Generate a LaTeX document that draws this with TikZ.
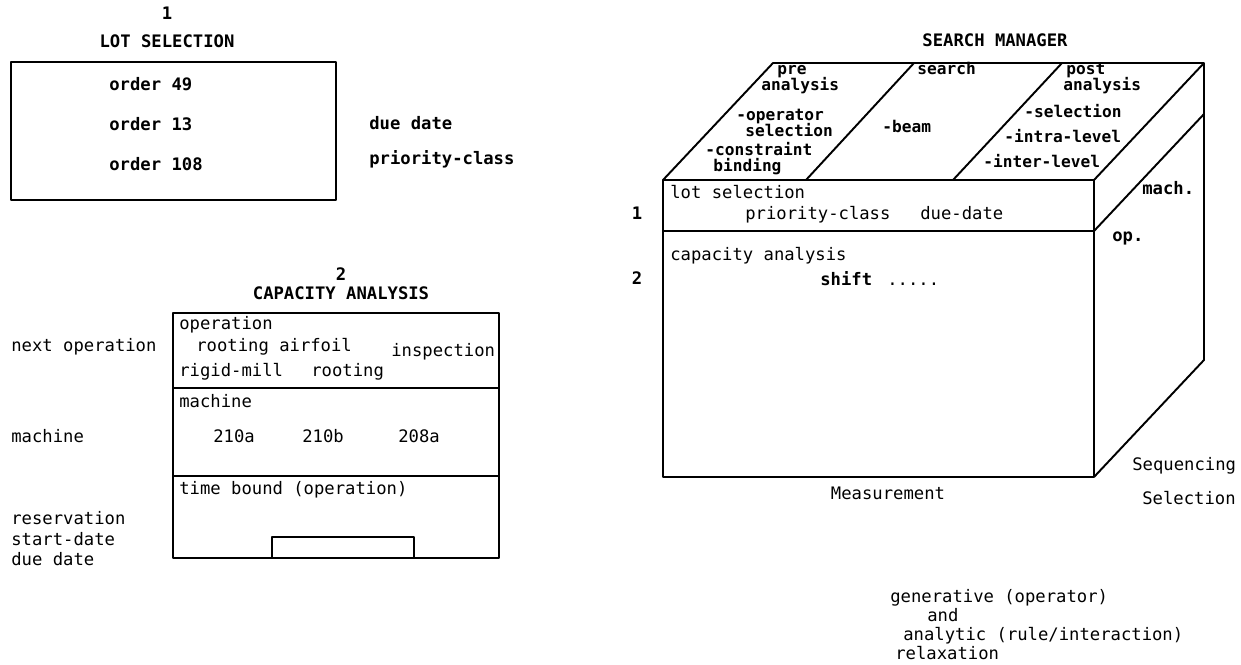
\documentclass[tikz,border=0pt]{standalone}
\usepackage{fontspec}
\setmonofont{DejaVu Sans Mono}
\usetikzlibrary{positioning, calc}

\begin{document}
\begin{tikzpicture}[x=0.02cm, y=-0.02cm,
  txt/.style={font=\ttfamily\fontsize{9.8}{11}\selectfont, inner sep=0pt,
              anchor=west, text height=1.4ex, text depth=.25ex},
  btxt/.style={txt, font=\ttfamily\bfseries\fontsize{9.8}{11}\selectfont},
  stxt/.style={btxt, font=\ttfamily\bfseries\fontsize{9.2}{10}\selectfont},
  mid/.style={anchor=center},
  edge/.style={line width=1.1pt, line join=round},
]
\useasboundingbox (0,0) rectangle (1241,664);

% lot selection panel
\node[btxt, mid] (numone)   at (167,15)  {1};
\node[btxt, mid] (lottitle) at (167,43)  {LOT SELECTION};
\draw[edge] (11,62) rectangle (336,200);
\node[btxt] (ordA) at (109,86)  {order 49};
\node[btxt] (ordB) at (109,126) {order 13};
\node[btxt] (ordC) at (109,166) {order 108};
\node[btxt] (lotdue)  at (369,125) {due date};
\node[btxt] (lotprio) at (369,160) {priority-class};

% capacity analysis panel
\node[btxt, mid] (numtwo)   at (341,276) {2};
\node[btxt, mid] (captitle) at (341,295) {CAPACITY ANALYSIS};
\draw[edge] (173,313) rectangle (499,558);
\draw[edge] (173,388) -- (499,388);
\draw[edge] (173,476) -- (499,476);
\draw[edge] (272,558) |- (414,537) -- (414,558);

\node[txt] (opsec)   at (179,325) {operation};
\node[txt] (opA)     at (196,347) {rooting airfoil};
\node[txt] (opB)     at (391,352) {inspection};
\node[txt] (opC)     at (179,372) {rigid-mill};
\node[txt] (opD)     at (311,372) {rooting};
\node[txt] (macsec)  at (179,403) {machine};
\node[txt, mid] (macA) at (234,438) {210a};
\node[txt, mid] (macB) at (323,438) {210b};
\node[txt, mid] (macC) at (419,438) {208a};
\node[txt] (timesec) at (179,490) {time bound (operation)};

\node[txt] (nextop)  at (11,347) {next operation};
\node[txt] (macleft) at (11,438) {machine};
\node[txt] (resv)    at (11,520) {reservation};
\node[txt] (start)   at (11,541) {start-date};
\node[txt] (resdue)  at (11,561) {due date};

% search manager cube
\coordinate (fa) at (663,180);
\coordinate (fb) at (1094,180);
\coordinate (fc) at (1094,477);
\coordinate (fd) at (663,477);
\coordinate (ba) at (773,63);
\coordinate (bb) at (1204,63);
\coordinate (bc) at (1204,360);

\node[btxt, mid] (smtitle) at (995,42) {SEARCH MANAGER};
\draw[edge] (fa) rectangle (fc);
\draw[edge] (fa) -- (ba) -- (bb) -- (bc) -- (fc);
\draw[edge] (fb) -- (bb);
\draw[edge] (663,231) -- (1094,231) -- (1204,114);
\draw[edge] (806,180) -- (914,63);
\draw[edge] (953,180) -- (1062,63);

% top face
\node[stxt] (pre)    at (777,70)  {pre};
\node[stxt] (preana) at (761,86)  {analysis};
\node[stxt] (preA)   at (736,116) {-operator};
\node[stxt] (preB)   at (745,132) {selection};
\node[stxt] (preC)   at (705,151) {-constraint};
\node[stxt] (preD)   at (713,167) {binding};
\node[stxt] (srch)   at (917,70)  {search};
\node[stxt] (beam)   at (882,128) {-beam};
\node[stxt] (post)   at (1066,70) {post};
\node[stxt] (postana) at (1063,86) {analysis};
\node[stxt] (postA)  at (1024,113) {-selection};
\node[stxt] (postB)  at (1004,138) {-intra-level};
\node[stxt] (postC)  at (983,163)  {-inter-level};

% front face
\node[btxt, mid] (rowone) at (637,215) {1};
\node[btxt, mid] (rowtwo) at (637,280) {2};
\node[txt] (lotrow)  at (670,194) {lot selection};
\node[txt] (rowprio) at (745,215) {priority-class};
\node[txt] (rowdue)  at (920,215) {due-date};
\node[txt] (caprow)  at (670,256) {capacity analysis};
\node[btxt] (shift)  at (820,281) {shift};
\node[txt] (dots)    at (887,281) {.....};

% right face and axes
\node[btxt] (mach) at (1142,190) {mach.};
\node[btxt] (oper) at (1112,237) {op.};
\node[txt] (seq)  at (1132,466) {Sequencing};
\node[txt, mid] (meas) at (888,495) {Measurement};
\node[txt] (sel)  at (1142,500) {Selection};

\node[txt] (genA) at (890,598) {generative (operator)};
\node[txt] (genB) at (927,617) {and};
\node[txt] (genC) at (903,636) {analytic (rule/interaction)};
\node[txt] (genD) at (895,655) {relaxation};
\end{tikzpicture}
\end{document}
